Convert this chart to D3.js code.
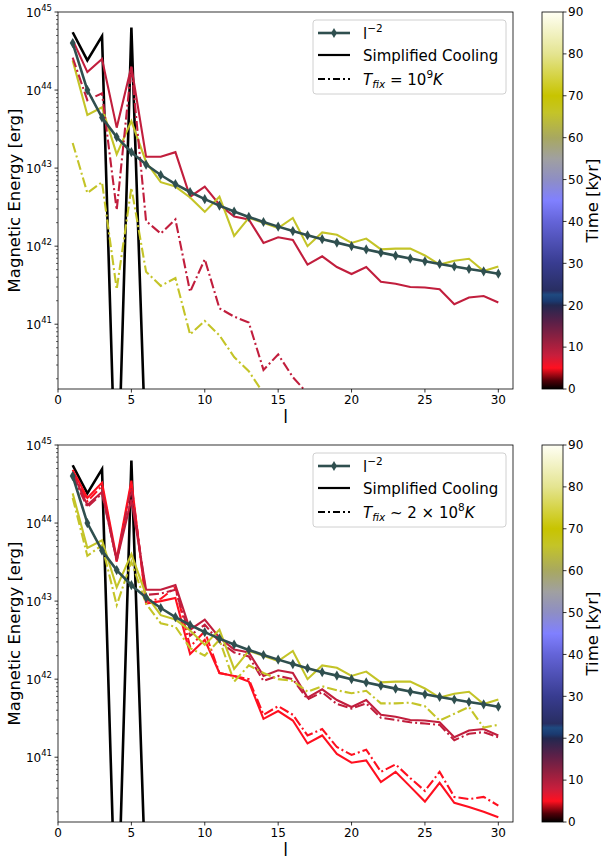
<!DOCTYPE html>
<html>
<head>
<meta charset="utf-8">
<script src="https://cdn.jsdelivr.net/npm/d3@7"></script>
<style>
  body { margin: 0; background: #fff; }
  text { font-family: "DejaVu Sans", sans-serif; fill: #000; }
</style>
</head>
<body>
<svg id="fig" width="601" height="859"></svg>
<script>
// multipole index
var ells = [1,2,3,4,5,6,7,8,9,10,11,12,13,14,15,16,17,18,19,20,21,22,23,24,25,26,27,28,29,30];
var xTicks = [0,5,10,15,20,25,30];
var yTickExps = [41,42,43,44,45];
var cbTicks = [0,10,20,30,40,50,60,70,80,90];

// l^-2 reference line
var refLine = [4.0e44,1.0e44,4.44e43,2.5e43,1.6e43,1.11e43,8.16e42,6.25e42,4.94e42,4.0e42,
  3.31e42,2.78e42,2.37e42,2.04e42,1.78e42,1.56e42,1.38e42,1.23e42,1.11e42,1.0e42,
  9.07e41,8.26e41,7.56e41,6.94e41,6.4e41,5.92e41,5.49e41,5.1e41,4.76e41,4.44e41];

// simplified cooling runs (solid)
var coolT0 = [5.5e44,2.4e44,4.9e44,2.5e38,6.3e44,1.6e39];
var coolT5 = [4.8e44,2.1e44,3.3e44,3.5e43,3.5e44,9.3e42,1.0e43,1.1e43,2.1e42,3.2e42,
  1.2e42,1.1e42,9.3e41,3.1e41,3.9e41,2.95e41,1.5e41,1.9e41,1.1e41,8.5e40,
  9.1e40,4.8e40,6.5e40,4.2e40,2.7e40,4.7e40,2.6e40,2.3e40,2.0e40,1.7e40];
var coolT9 = [4.4e44,1.7e44,2.5e44,3.3e43,2.0e44,1.4e43,1.4e43,1.6e43,4.3e42,5.8e42,
  3.4e42,2.4e42,2.2e42,1.1e42,1.3e42,1.2e42,5.8e41,7.4e41,5.4e41,4.4e41,
  5.4e41,3.5e41,3.3e41,3.0e41,2.95e41,2.8e41,1.8e41,2.2e41,2.3e41,1.9e41];
var coolT66 = [2.4e44,4.8e43,6.0e43,1.5e43,4.0e43,1.2e43,6.6e42,5.8e42,4.2e42,2.75e42,
  4.3e42,1.35e42,2.3e42,2.0e42,1.7e42,2.3e42,1.0e42,1.5e42,1.4e42,1.1e42,
  1.25e42,9.1e41,9.3e41,9.3e41,7.6e41,5.8e41,6.5e41,6.9e41,4.8e41,5.5e41];

// T_fix = 1e9 K runs (dash-dot, top panel)
var fix9T9 = [2.6e44,7.4e43,9.1e43,2.9e42,2.0e44,2.1e42,1.45e42,2.2e42,2.6e41,6.8e41,
  1.6e41,1.25e41,1.05e41,2.6e40,4.1e40,2.1e40,1.3e40,1.4e40,9e39];
var fix9T66 = [2.1e43,4.8e42,6.6e42,2.8e41,5.6e42,4.7e41,3.1e41,3.9e41,7.4e40,1.1e41,
  7.2e40,3.8e40,2.5e40,1.3e40,8e39];

// T_fix ~ 2e8 K runs (dash-dot, bottom panel)
var fix8T5 = [4.4e44,1.9e44,3.0e44,3.2e43,3.2e44,1.0e43,1.07e43,1.5e43,2.6e42,4.1e42,
  1.2e42,1.1e42,1.0e42,3.5e41,4.5e41,3.5e41,1.9e41,2.3e41,1.35e41,1.07e41,
  1.25e41,6.5e40,8.1e40,5.4e40,3.7e40,6.5e40,3.1e40,2.9e40,3.1e40,2.4e40];
var fix8T9 = [4.0e44,1.6e44,2.4e44,3.4e43,2.8e44,1.2e43,1.25e43,1.4e43,3.6e42,5.0e42,
  3.0e42,2.2e42,1.95e42,9.5e41,1.1e42,1.0e42,5.5e41,6.8e41,4.8e41,4.2e41,
  4.9e41,3.2e41,3.0e41,2.8e41,2.7e41,2.6e41,1.65e41,2.0e41,2.1e41,1.8e41];
var fix8T66 = [2.1e44,3.8e43,5.2e43,8.9e42,3.2e43,9.3e42,5.2e42,4.7e42,2.5e42,2.0e42,
  3.2e42,9.3e41,1.5e42,1.2e42,1.0e42,9.5e41,6.9e41,8.1e41,7.2e41,6.6e41,
  7.1e41,4.9e41,4.9e41,5.0e41,4.5e41,2.95e41,3.6e41,4.4e41,2.4e41,2.6e41];

// colormap for time [kyr]
var cmapTimes  = [0, 2, 5, 8, 12, 16, 20, 21, 22.5, 23.5, 30, 40, 45, 50, 55, 60, 66, 70, 80, 90];
var cmapColors = ["#000000","#500008","#ff1020","#c81e3c","#902040","#5a2048","#222850","#1a3a70",
  "#1f4a80","#282e62","#383c90","#6464d8","#8080ff","#8e8ec4","#a0a0a0","#a8a860",
  "#c4c428","#c8c400","#e4e490","#fffff4"];

var panels = [
  { top: 12, fixLabel: "eq", series: [
      { values: coolT0, time: 0, dash: false },
      { values: coolT9, time: 8.5, dash: false },
      { values: coolT66, time: 66, dash: false },
      { values: fix9T9, time: 8.5, dash: true },
      { values: fix9T66, time: 66, dash: true }
  ]},
  { top: 445, fixLabel: "sim", series: [
      { values: coolT0, time: 0, dash: false },
      { values: coolT5, time: 5, dash: false },
      { values: fix8T5, time: 5, dash: true },
      { values: coolT9, time: 8.5, dash: false },
      { values: fix8T9, time: 8.5, dash: true },
      { values: coolT66, time: 66, dash: false },
      { values: fix8T66, time: 66, dash: true }
  ]}
];

var margin = { left: 58, right: 88 };
var width = 601 - margin.left - margin.right;   // 455
var height = 377;
var refColor = "#2f4f4f";
var dashDot = "10,3,2,3";

var svg = d3.select("#fig");
var defs = svg.append("defs");

var timeColor = d3.scaleLinear().domain(cmapTimes).range(cmapColors).interpolate(d3.interpolateRgb);

var xScale = d3.scaleLinear().domain([0, 31]).range([0, width]);
var yScale = d3.scaleLog().domain([Math.pow(10, 40.17), 1e45]).range([height, 0]);
var cbScale = d3.scaleLinear().domain([0, 90]).range([height, 0]);

//colorbar gradient
var grad = defs.append("linearGradient").attr("id", "cbgrad")
  .attr("x1", 0).attr("y1", 1).attr("x2", 0).attr("y2", 0);
cmapTimes.forEach(function (t, i) {
  grad.append("stop").attr("offset", (t / 90 * 100) + "%").attr("stop-color", cmapColors[i]);
});

var line = d3.line()
  .x(function (d) { return xScale(d[0]); })
  .y(function (d) { return yScale(d[1]); });

panels.forEach(function (p, pi) {
  var g = svg.append("g").attr("transform", "translate(" + margin.left + "," + p.top + ")");

  defs.append("clipPath").attr("id", "clip" + pi)
    .append("rect").attr("width", width).attr("height", height);

  var plot = g.append("g").attr("clip-path", "url(#clip" + pi + ")");

  //data lines
  p.series.forEach(function (s) {
    plot.append("path")
      .datum(s.values.map(function (v, i) { return [ells[i], v]; }))
      .attr("d", line)
      .attr("fill", "none")
      .attr("stroke", timeColor(s.time))
      .attr("stroke-width", s.time === 0 ? 2.6 : 2.1)
      .attr("stroke-linejoin", "miter")
      .attr("stroke-dasharray", s.dash ? dashDot : null);
  });

  //l^-2 with diamonds
  var refData = refLine.map(function (v, i) { return [ells[i], v]; });
  plot.append("path").datum(refData).attr("d", line)
    .attr("fill", "none").attr("stroke", refColor).attr("stroke-width", 2.6);
  plot.selectAll(".dm").data(refData).enter().append("path")
    .attr("transform", function (d) { return "translate(" + xScale(d[0]) + "," + yScale(d[1]) + ")"; })
    .attr("d", d3.symbol().type(d3.symbolDiamond).size(30))
    .attr("fill", refColor);

  //x axis
  var xa = g.append("g").attr("transform", "translate(0," + height + ")");
  xTicks.forEach(function (t) {
    xa.append("line").attr("x1", xScale(t)).attr("x2", xScale(t)).attr("y1", 0).attr("y2", 3.5)
      .attr("stroke", "#000").attr("stroke-width", 0.8);
    xa.append("text").attr("x", xScale(t)).attr("y", 15).attr("text-anchor", "middle")
      .attr("font-size", 12).text(t);
  });
  g.append("text").attr("x", width / 2).attr("y", height + 34).attr("text-anchor", "middle")
    .attr("font-size", 17).text("l");

  //y axis, major + minor
  var ya = g.append("g");
  var dom = yScale.domain();
  for (var e = 40; e <= 44; e++) {
    for (var m = 2; m <= 9; m++) {
      var v = m * Math.pow(10, e);
      if (v < dom[0] || v > dom[1]) continue;
      ya.append("line").attr("x1", -2).attr("x2", 0).attr("y1", yScale(v)).attr("y2", yScale(v))
        .attr("stroke", "#000").attr("stroke-width", 0.6);
    }
  }
  yTickExps.forEach(function (e) {
    var y = yScale(Math.pow(10, e));
    ya.append("line").attr("x1", -3.5).attr("x2", 0).attr("y1", y).attr("y2", y)
      .attr("stroke", "#000").attr("stroke-width", 0.8);
    var t = ya.append("text").attr("x", -6).attr("y", y + 4.5).attr("text-anchor", "end").attr("font-size", 12);
    t.append("tspan").text("10");
    t.append("tspan").attr("dy", -6).attr("font-size", 8.5).text(e);
  });
  g.append("text")
    .attr("transform", "translate(" + (20 - margin.left) + "," + (height / 2) + ") rotate(-90)")
    .attr("text-anchor", "middle").attr("font-size", 16.5).text("Magnetic Energy [erg]");

  //frame
  g.append("rect").attr("width", width).attr("height", height)
    .attr("fill", "none").attr("stroke", "#000").attr("stroke-width", 0.8);

  //legend
  var lg = g.append("g").attr("transform", "translate(255,8)");
  lg.append("rect").attr("width", 193).attr("height", 74).attr("rx", 3)
    .attr("fill", "#fff").attr("fill-opacity", 0.8).attr("stroke", "#d0d0d0").attr("stroke-width", 1);
  var rows = [13, 35, 59];
  lg.append("line").attr("x1", 5).attr("x2", 37).attr("y1", rows[0]).attr("y2", rows[0])
    .attr("stroke", refColor).attr("stroke-width", 2.6);
  lg.append("path").attr("transform", "translate(21," + rows[0] + ")")
    .attr("d", d3.symbol().type(d3.symbolDiamond).size(30)).attr("fill", refColor);
  lg.append("line").attr("x1", 5).attr("x2", 37).attr("y1", rows[1]).attr("y2", rows[1])
    .attr("stroke", "#000").attr("stroke-width", 2.2);
  lg.append("line").attr("x1", 5).attr("x2", 37).attr("y1", rows[2]).attr("y2", rows[2])
    .attr("stroke", "#000").attr("stroke-width", 2.2).attr("stroke-dasharray", "7,3,2,3");

  var t1 = lg.append("text").attr("x", 50).attr("y", rows[0] + 5.5).attr("font-size", 15);
  t1.append("tspan").text("l");
  t1.append("tspan").attr("dy", -7).attr("font-size", 10.5).text("\u22122");
  lg.append("text").attr("x", 50).attr("y", rows[1] + 5.5).attr("font-size", 15).text("Simplified Cooling");
  var t3 = lg.append("text").attr("x", 50).attr("y", rows[2] + 5.5).attr("font-size", 15);
  t3.append("tspan").attr("font-style", "italic").text("T");
  t3.append("tspan").attr("font-style", "italic").attr("font-size", 10.5).attr("dy", 3).text("fix");
  if (p.fixLabel === "eq") {
    t3.append("tspan").attr("dy", -3).text(" = 10");
    t3.append("tspan").attr("dy", -7).attr("font-size", 10.5).text("9");
  } else {
    t3.append("tspan").attr("dy", -3).text(" ~ 2 \u00d7 10");
    t3.append("tspan").attr("dy", -7).attr("font-size", 10.5).text("8");
  }
  t3.append("tspan").attr("dy", 7).attr("font-style", "italic").text("K");

  //colorbar
  var cb = svg.append("g").attr("transform", "translate(542," + p.top + ")");
  cb.append("rect").attr("width", 21).attr("height", height).attr("fill", "url(#cbgrad)")
    .attr("stroke", "#000").attr("stroke-width", 0.8);
  cbTicks.forEach(function (t) {
    var y = cbScale(t);
    cb.append("line").attr("x1", 21).attr("x2", 24.5).attr("y1", y).attr("y2", y)
      .attr("stroke", "#000").attr("stroke-width", 0.8);
    cb.append("text").attr("x", 26).attr("y", y + 4.3).attr("font-size", 12).text(t);
  });
  cb.append("text")
    .attr("transform", "translate(56," + (height / 2) + ") rotate(-90)")
    .attr("text-anchor", "middle").attr("font-size", 16.5).text("Time [kyr]");
});
</script>
</body>
</html>
